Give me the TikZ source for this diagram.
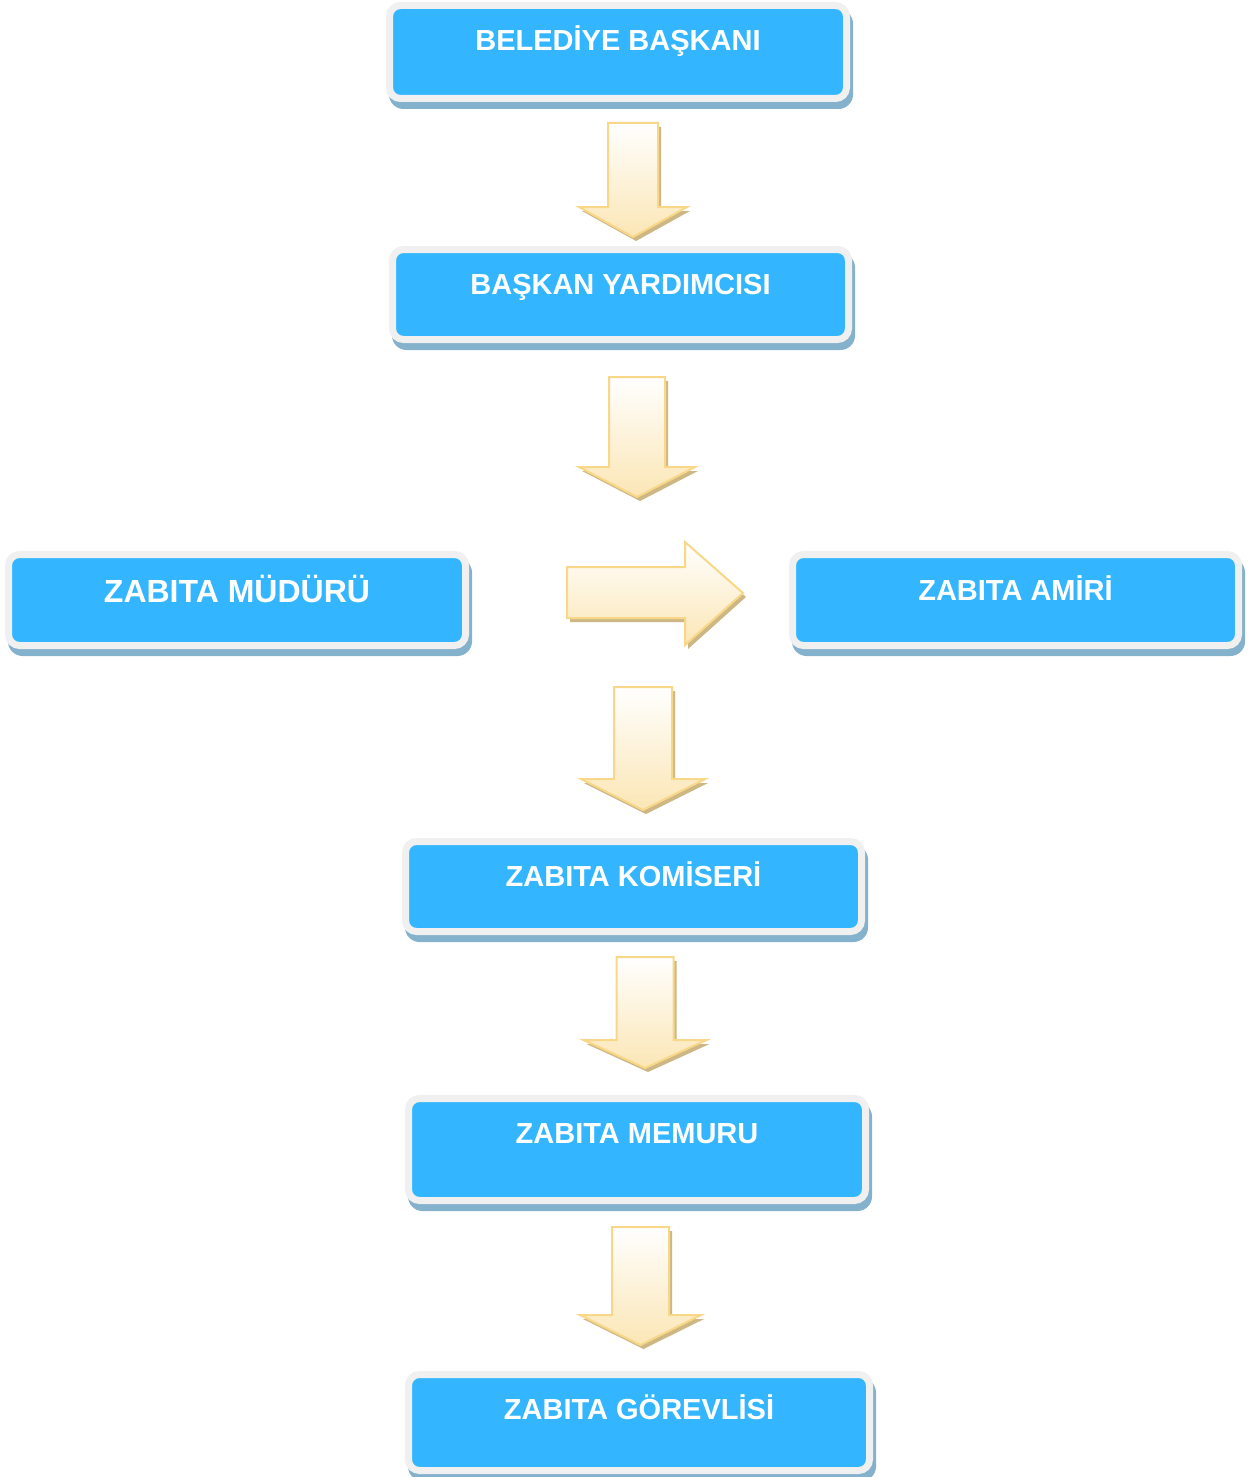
\documentclass[tikz,border=0pt]{standalone}
\usepackage{fontspec}
\setmainfont{Liberation Sans}
\usetikzlibrary{backgrounds}
\definecolor{boxblue}{HTML}{33B6FF}
\definecolor{framegray}{HTML}{F0F0F0}
\definecolor{shadowblue}{HTML}{84B1CC}
\definecolor{arrowfill}{HTML}{FBE6B5}
\definecolor{arrowline}{HTML}{F8D788}
\definecolor{arrowshade}{HTML}{CDB784}
\tikzset{
  orgbox/.style={draw=framegray, line width=3.5pt, fill=boxblue, rounded corners=5.5pt,
    inner sep=0pt, text=white, font=\fontsize{14.5pt}{17pt}\selectfont\bfseries},
  blockarrow/.style={draw=arrowline, line width=1pt, top color=white, bottom color=arrowfill, line join=miter},
  arrowshadow/.style={fill=arrowshade},
  boxshadow/.style={fill=shadowblue, rounded corners=7.3pt}
}
\newcommand\boxshade[1]{\fill[boxshadow] ([xshift=1.5pt,yshift=-3.5pt]#1.north west) rectangle ([xshift=1.5pt,yshift=-3.5pt]#1.south east);}
% cx, shaft half width, top, head half width, head top, tip
\newcommand\downblock[6]{%
  \fill[arrowshadow,shift={(3,4)}] ({#1-#2},#3) -- ({#1+#2},#3) -- ({#1+#2},#5) -- ({#1+#4},#5) -- (#1,#6) -- ({#1-#4},#5) -- ({#1-#2},#5) -- cycle;
  \draw[blockarrow] ({#1-#2},#3) -- ({#1+#2},#3) -- ({#1+#2},#5) -- ({#1+#4},#5) -- (#1,#6) -- ({#1-#4},#5) -- ({#1-#2},#5) -- cycle;}
\begin{document}
\begin{tikzpicture}[x=0.5pt,y=-0.5pt]
\useasboundingbox (0,0) rectangle (1254,1477);
\node[orgbox, minimum width=228.5pt, minimum height=46.5pt] (b1) at (618,52) {\smash{\raisebox{0.8pt}{BELEDİYE BAŞKANI}}};
\node[orgbox, minimum width=228pt, minimum height=45pt] (b2) at (620.5,294.5) {\smash{BAŞKAN YARDIMCISI}};
\node[orgbox, minimum width=228.5pt, minimum height=45.5pt, font=\fontsize{16pt}{19pt}\selectfont\bfseries] (b3) at (237,600) {\smash{\raisebox{-1.25pt}{ZABITA MÜDÜRÜ}}};
\node[orgbox, minimum width=223pt, minimum height=45.5pt] (b4) at (1015.5,600) {\smash{\raisebox{-0.2pt}{ZABITA AMİRİ}}};
\node[orgbox, minimum width=228pt, minimum height=45pt] (b5) at (633.5,886.5) {\smash{ZABITA KOMİSERİ}};
\node[orgbox, minimum width=228.5pt, minimum height=51pt] (b6) at (637,1149.5) {\smash{\raisebox{3pt}{ZABITA MEMURU}}};
\node[orgbox, minimum width=230.5pt, minimum height=48pt] (b7) at (639,1422.5) {\smash{\raisebox{1.75pt}{ZABITA GÖREVLİSİ}}};
\begin{scope}[on background layer]
  \fill[white] (0,0) rectangle (1254,1477);
  \boxshade{b1}\boxshade{b2}\boxshade{b3}\boxshade{b4}\boxshade{b5}\boxshade{b6}\boxshade{b7}
\end{scope}
\downblock{633}{25}{123}{54}{207}{237}
\downblock{637}{28}{377}{58}{467}{497}
\downblock{643}{29}{687}{62}{779}{810}
\downblock{645}{28.5}{957}{61.5}{1040}{1068}
\downblock{640.5}{28.5}{1227}{60.5}{1315}{1345}
\fill[arrowshadow,shift={(3,4)}] (567,567) -- (685,567) -- (685,542) -- (743,593) -- (685,645) -- (685,618) -- (567,618) -- cycle;
\draw[blockarrow] (567,567) -- (685,567) -- (685,542) -- (743,593) -- (685,645) -- (685,618) -- (567,618) -- cycle;
\end{tikzpicture}
\end{document}
